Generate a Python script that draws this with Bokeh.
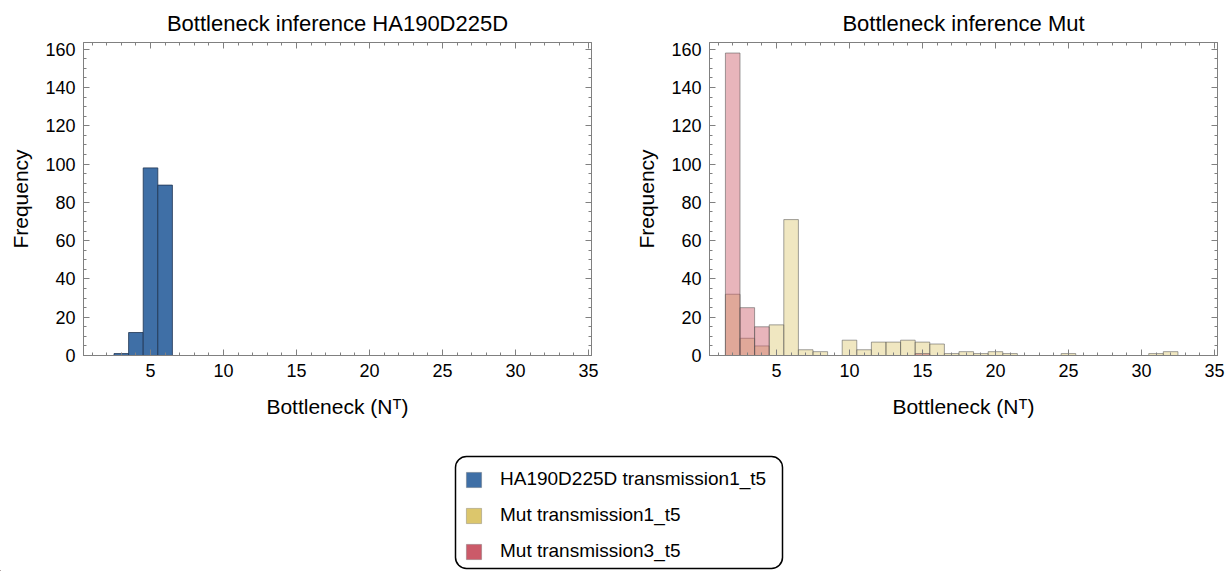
from bokeh.plotting import figure
from bokeh.models import Range1d, FixedTicker, LinearAxis, Legend, LegendItem, BoxAnnotation
from bokeh.layouts import column, row
from bokeh.embed import file_html
from bokeh.resources import INLINE

# ---- data ----
ha_bins = [3, 4, 5, 6]
ha_counts = [1, 12, 98, 89]

mut1_bins = [2, 3, 4, 5, 6, 7, 8, 10, 11, 12, 13, 14, 15, 16, 17, 18, 19, 20, 21, 25, 31, 32]
mut1_counts = [32, 9, 5, 16, 71, 3, 2, 8, 3, 7, 7, 8, 7, 6, 1, 2, 1, 2, 1, 1, 1, 2]

mut3_bins = [2, 3, 4, 15]
mut3_counts = [158, 25, 15, 1]

series_labels = ["HA190D225D transmission1_t5", "Mut transmission1_t5", "Mut transmission3_t5"]
titles = ["Bottleneck inference HA190D225D", "Bottleneck inference Mut"]
x_ticks = [5, 10, 15, 20, 25, 30, 35]
y_ticks = [0, 20, 40, 60, 80, 100, 120, 140, 160]
x_label = "Bottleneck (N\u1d40)"
y_label = "Frequency"

BLUE = "#3f6fa6"
YELLOW = "#dcc66c"
RED = "#cb5a69"
FRAME = "#808080"
FONT = "Liberation Sans"


def style_axis(ax, labels=True):
    ax.axis_line_color = FRAME
    ax.major_tick_line_color = FRAME
    ax.minor_tick_line_color = FRAME
    ax.major_tick_in = 6
    ax.major_tick_out = 0
    ax.minor_tick_in = 3
    ax.minor_tick_out = 0
    ax.major_label_text_font = FONT
    if labels:
        ax.major_label_text_color = "black"
        ax.major_label_text_font_size = "18px"
        ax.major_label_standoff = 8
    else:
        ax.major_label_text_color = None
        ax.major_label_text_alpha = 0
        ax.major_label_text_font_size = "1px"
        ax.major_label_standoff = 0


def make_fig(title, width, border_left, border_right):
    p = figure(width=width, height=430,
               x_range=Range1d(0.41, 35.21), y_range=Range1d(0, 163.5),
               output_backend="svg", toolbar_location=None,
               min_border_left=border_left, min_border_right=border_right,
               min_border_top=42, min_border_bottom=75, title=title)
    p.title.align = "center"
    p.title.text_font = FONT
    p.title.text_font_size = "22px"
    p.title.text_font_style = "normal"
    p.title.text_color = "black"
    p.title.standoff = 14
    p.xgrid.visible = False
    p.ygrid.visible = False
    p.outline_line_color = FRAME
    p.background_fill_color = "white"
    p.border_fill_color = "white"

    p.xaxis.ticker = FixedTicker(ticks=x_ticks, minor_ticks=list(range(1, 36)))
    p.yaxis.ticker = FixedTicker(ticks=y_ticks, minor_ticks=list(range(0, 165, 5)))
    bx = p.below[0]
    ly = p.left[0]
    bx.axis_label = x_label
    ly.axis_label = y_label
    for ax in (bx, ly):
        style_axis(ax)
        ax.axis_label_text_font = FONT
        ax.axis_label_text_font_size = "21px"
        ax.axis_label_text_font_style = "normal"
        ax.axis_label_text_color = "black"
    bx.axis_label_standoff = 15
    ly.axis_label_standoff = 10

    top = LinearAxis(ticker=FixedTicker(ticks=x_ticks, minor_ticks=list(range(1, 36))))
    right = LinearAxis(ticker=FixedTicker(ticks=y_ticks, minor_ticks=list(range(0, 165, 5))))
    style_axis(top, labels=False)
    style_axis(right, labels=False)
    p.add_layout(top, "above")
    p.add_layout(right, "right")
    return p


p1 = make_fig(titles[0], 608, 83, 17)
r_ha = p1.vbar(x=ha_bins, top=ha_counts, width=1, bottom=0,
               fill_color=BLUE, fill_alpha=1.0, line_color="#1f3553", line_alpha=0.8, line_width=1)

p2 = make_fig(titles[1], 623, 101, 14)
r_m1 = p2.vbar(x=mut1_bins, top=mut1_counts, width=1, bottom=0,
               fill_color=YELLOW, fill_alpha=0.42, line_color="#555555", line_alpha=0.55, line_width=1)
r_m3 = p2.vbar(x=mut3_bins, top=mut3_counts, width=1, bottom=0,
               fill_color=RED, fill_alpha=0.45, line_color="#555555", line_alpha=0.55, line_width=1)

# ---- legend panel ----
p3 = figure(width=1231, height=141, x_range=Range1d(0, 1231), y_range=Range1d(0, 141),
            output_backend="svg", toolbar_location=None,
            min_border=0, min_border_left=0, min_border_right=0, min_border_top=0, min_border_bottom=0)
p3.axis.visible = False
p3.xgrid.visible = False
p3.ygrid.visible = False
p3.outline_line_color = None

lg_colors = [BLUE, YELLOW, RED]
lg_renderers = []
for c in lg_colors:
    # one off-screen bar per series, used only to give the legend its swatch
    lg_renderers.append(p3.vbar(x=[-1000], top=[1], width=1, fill_color=c, fill_alpha=1.0,
                                line_color="#666666", line_alpha=0.35, line_width=1))

box = BoxAnnotation(left=455, right=782, top=115, bottom=3, border_radius=11,
                    fill_alpha=0, line_color="black", line_alpha=1.0, line_width=1.5)
p3.add_layout(box)

legend = Legend(items=[LegendItem(label=lab, renderers=[r]) for lab, r in zip(series_labels, lg_renderers)],
                location=(460, 5), orientation="vertical",
                glyph_width=19, glyph_height=19, label_height=22, label_standoff=17,
                spacing=14, padding=4, margin=0,
                label_text_font=FONT, label_text_font_size="19px", label_text_color="black",
                border_line_alpha=0, background_fill_alpha=0)
p3.add_layout(legend, "center")

layout = column(row(p1, p2), p3)
open("out.html", "w").write(file_html(layout, INLINE))
